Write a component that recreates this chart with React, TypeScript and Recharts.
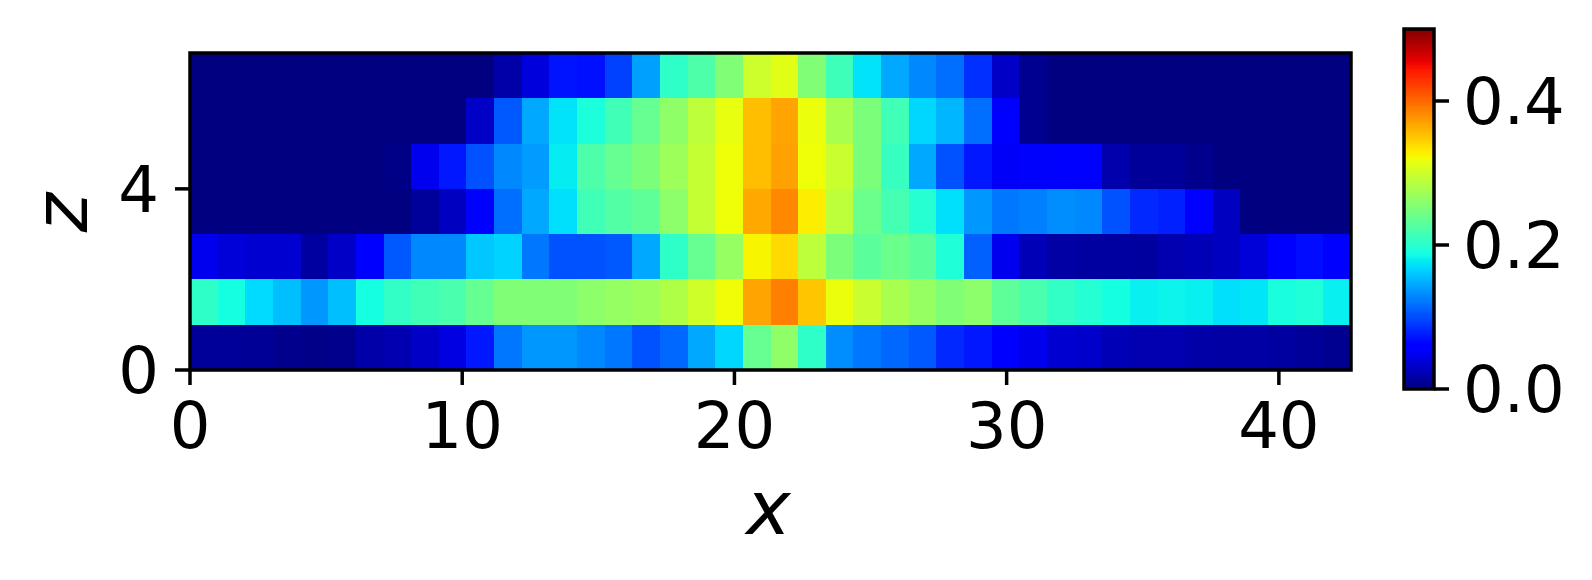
import { ComposedChart, XAxis, YAxis, ReferenceArea, Label } from "recharts"

const VMAX = 0.5
const X_MAX = 42.65
const Z_MAX = 7
const X_TICKS = [0, 10, 20, 30, 40]
const Z_TICKS = [0, 4]
const CBAR_TICKS = [0, 0.2, 0.4]

// one array per z row, bottom (z=0) to top (z=6), 42 columns along x
const row0 = [0.011, 0.011, 0.01, 0.006, 0.004, 0.006, 0.018, 0.021, 0.031, 0.042, 0.074, 0.121, 0.137, 0.137, 0.129, 0.121, 0.102, 0.113, 0.145, 0.168, 0.237, 0.262, 0.203, 0.132, 0.121, 0.113, 0.106, 0.082, 0.074, 0.058, 0.047, 0.035, 0.033, 0.024, 0.021, 0.021, 0.018, 0.016, 0.016, 0.014, 0.011, 0.007]
const row1 = [0.203, 0.188, 0.17, 0.156, 0.137, 0.156, 0.188, 0.205, 0.214, 0.22, 0.237, 0.253, 0.253, 0.253, 0.26, 0.266, 0.27, 0.282, 0.3, 0.321, 0.368, 0.388, 0.35, 0.318, 0.297, 0.278, 0.266, 0.253, 0.26, 0.232, 0.22, 0.205, 0.197, 0.188, 0.18, 0.182, 0.18, 0.172, 0.175, 0.19, 0.194, 0.18]
const row2 = [0.048, 0.038, 0.035, 0.035, 0.014, 0.031, 0.058, 0.106, 0.129, 0.129, 0.16, 0.166, 0.121, 0.102, 0.102, 0.106, 0.145, 0.203, 0.237, 0.266, 0.325, 0.34, 0.29, 0.25, 0.23, 0.24, 0.23, 0.194, 0.11, 0.048, 0.024, 0.016, 0.014, 0.014, 0.013, 0.021, 0.024, 0.028, 0.038, 0.058, 0.068, 0.06]
const row3 = [0, 0, 0, 0, 0, 0, 0, 0, 0.012, 0.028, 0.058, 0.117, 0.145, 0.172, 0.214, 0.225, 0.232, 0.26, 0.294, 0.32, 0.366, 0.383, 0.329, 0.29, 0.24, 0.217, 0.198, 0.172, 0.137, 0.121, 0.125, 0.132, 0.129, 0.102, 0.082, 0.078, 0.058, 0.028, 0, 0, 0, 0]
const row4 = [0, 0, 0, 0, 0, 0, 0, 0.003, 0.048, 0.074, 0.102, 0.129, 0.139, 0.178, 0.222, 0.237, 0.25, 0.27, 0.294, 0.32, 0.354, 0.37, 0.32, 0.297, 0.25, 0.208, 0.145, 0.102, 0.074, 0.052, 0.054, 0.055, 0.058, 0.019, 0.011, 0.011, 0.006, 0, 0, 0, 0, 0]
const row5 = [0, 0, 0, 0, 0, 0, 0, 0, 0, 0, 0.031, 0.106, 0.145, 0.174, 0.192, 0.214, 0.237, 0.262, 0.29, 0.316, 0.354, 0.368, 0.318, 0.278, 0.25, 0.214, 0.168, 0.152, 0.117, 0.058, 0.007, 0, 0, 0, 0, 0, 0, 0, 0, 0, 0, 0]
const row6 = [0, 0, 0, 0, 0, 0, 0, 0, 0, 0, 0, 0.018, 0.04, 0.072, 0.07, 0.094, 0.141, 0.203, 0.222, 0.253, 0.299, 0.312, 0.253, 0.212, 0.174, 0.145, 0.129, 0.117, 0.086, 0.031, 0.007, 0, 0, 0, 0, 0, 0, 0, 0, 0, 0, 0]

const ROWS = [row0, row1, row2, row3, row4, row5, row6]
const NX = row0.length
const CELL_W = X_MAX / NX

// matplotlib "jet" segment data
const JET_R = [[0, 0], [0.35, 0], [0.66, 1], [0.89, 1], [1, 0.5]]
const JET_G = [[0, 0], [0.125, 0], [0.375, 1], [0.64, 1], [0.91, 0], [1, 0]]
const JET_B = [[0, 0.5], [0.11, 1], [0.34, 1], [0.65, 0], [1, 0]]

function seg(pts: number[][], t: number) {
  for (let k = 1; k < pts.length; k++) {
    if (t <= pts[k][0]) {
      const [t0, v0] = pts[k - 1]
      const [t1, v1] = pts[k]
      return v0 + ((t - t0) / (t1 - t0)) * (v1 - v0)
    }
  }
  return pts[pts.length - 1][1]
}

function jet(v: number) {
  const t = Math.max(0, Math.min(1, v / VMAX))
  const c = (p: number[][]) => Math.round(seg(p, t) * 255)
  return `rgb(${c(JET_R)},${c(JET_G)},${c(JET_B)})`
}

const cells = ROWS.flatMap((row, z) =>
  row.map((v, i) => ({ x1: i * CELL_W, x2: (i + 1) * CELL_W, y1: z, y2: z + 1, v }))
)

// colorbar is drawn as thin slabs of the colormap
const CBAR_STEPS = 200
const cbar = Array.from({ length: CBAR_STEPS }, (_, k) => ({
  y1: (k * VMAX) / CBAR_STEPS,
  y2: ((k + 1) * VMAX) / CBAR_STEPS,
  v: ((k + 0.5) * VMAX) / CBAR_STEPS,
}))

const FONT = "DejaVu Sans"
const tickStyle = { fill: "#000", fontSize: 64, fontFamily: FONT }
const lineStyle = { stroke: "#000", strokeWidth: 3.5 }

const XTitle = (props: any) => {
  const vb = props.viewBox || { x: 190, y: 370, width: 1161, height: 170 }
  return (
    <text x={vb.x + vb.width / 2 - 2} y={vb.y + 164} textAnchor="middle"
      fontSize={75} fontStyle="italic" fontFamily={FONT} fill="#000">
      x
    </text>
  )
}

const ZTitle = (props: any) => {
  const vb = props.viewBox || { x: 0, y: 53, width: 190, height: 317 }
  const cx = vb.x + 87
  const cy = vb.y + vb.height / 2 + 1
  return (
    <text x={cx} y={cy} textAnchor="middle" transform={`rotate(-90, ${cx}, ${cy})`}
      fontSize={75} fontStyle="italic" fontFamily={FONT} fill="#000">
      z
    </text>
  )
}

export default function App() {
  return (
    <div style={{ position: "absolute", left: 0, top: 0, width: 1592, height: 580, background: "#fff" }}>
      <div style={{ position: "absolute", left: 0, top: 0 }}>
        <ComposedChart width={1380} height={580} margin={{ top: 53, right: 29, bottom: 40, left: 0 }}>
          <XAxis type="number" dataKey="x" domain={[0, X_MAX]} allowDataOverflow ticks={X_TICKS}
            height={170} axisLine={false} tickLine={lineStyle} tickSize={15} tickMargin={18}
            tick={tickStyle} interval={0}>
            <Label content={XTitle} />
          </XAxis>
          <YAxis type="number" dataKey="z" domain={[0, Z_MAX]} allowDataOverflow ticks={Z_TICKS}
            width={190} axisLine={false} tickLine={lineStyle} tickSize={15} tickMargin={16}
            tick={tickStyle} interval={0}>
            <Label content={ZTitle} />
          </YAxis>
          {cells.map((c, k) => (
            <ReferenceArea key={k} x1={c.x1} x2={c.x2} y1={c.y1} y2={c.y2}
              fill={jet(c.v)} fillOpacity={1} stroke="none" shapeRendering="crispEdges" />
          ))}
          <ReferenceArea x1={0} x2={X_MAX} y1={0} y2={Z_MAX} fill="none" stroke="#000" strokeWidth={3.5} />
        </ComposedChart>
      </div>
      <div style={{ position: "absolute", left: 1380, top: 0 }}>
        <ComposedChart width={212} height={580} margin={{ top: 29, right: 0, bottom: 191, left: 24 }}>
          <XAxis type="number" dataKey="x" domain={[0, 1]} allowDataOverflow hide />
          <YAxis type="number" dataKey="v" orientation="right" domain={[0, VMAX]} allowDataOverflow
            ticks={CBAR_TICKS} width={158} axisLine={false} tickLine={lineStyle} tickSize={15}
            tickMargin={14} tick={tickStyle} interval={0} tickFormatter={(v: number) => v.toFixed(1)} />
          {cbar.map((s, k) => (
            <ReferenceArea key={k} x1={0} x2={1} y1={s.y1} y2={s.y2}
              fill={jet(s.v)} fillOpacity={1} stroke="none" shapeRendering="crispEdges" />
          ))}
          <ReferenceArea x1={0} x2={1} y1={0} y2={VMAX} fill="none" stroke="#000" strokeWidth={3.5} />
        </ComposedChart>
      </div>
    </div>
  )
}
